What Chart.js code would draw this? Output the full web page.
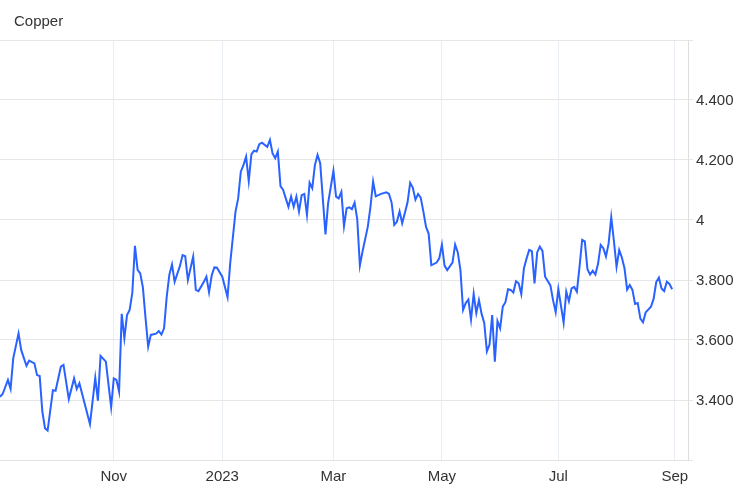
<!DOCTYPE html>
<html>
<head>
<meta charset="utf-8">
<script src="https://cdn.jsdelivr.net/npm/chart.js@4/dist/chart.umd.min.js"></script>
<style>
  html, body { margin: 0; padding: 0; background: #fff; }
  #wrap { position: relative; width: 750px; height: 496px; }
  #title { position: absolute; left: 14px; top: 13px; font: 15px/15px "Liberation Sans", Arial, sans-serif; color: #333; }
  canvas { display: block; }
</style>
</head>
<body>
<div id="wrap">
  <div id="title">Copper</div>
  <canvas id="chart" width="750" height="496"></canvas>
</div>
<script>
// trading-day index of each reading and the copper price at that day
const days = [
  0, 1, 3, 4, 5, 7, 8, 10, 11, 13, 14, 15, 16, 17, 18, 20, 21, 23, 24, 26,
  28, 29, 30, 31, 34, 36, 37, 38, 40, 42, 43, 44, 45, 46, 47, 48, 49, 50, 51, 52,
  53, 54, 55, 56, 57, 59, 60, 61, 62, 63, 64, 65, 66, 68, 69, 70, 71, 73, 74, 75,
  77, 78, 79, 80, 81, 82, 84, 86, 87, 89, 90, 91, 92, 93, 94, 95, 96, 97, 98, 99,
  101, 102, 103, 104, 105, 106, 107, 108, 109, 110, 111, 112, 113, 114, 115, 116, 117, 118, 119, 120,
  121, 123, 124, 126, 127, 128, 129, 130, 131, 132, 133, 134, 135, 136, 137, 139, 140, 141, 142, 144,
  146, 147, 148, 149, 150, 151, 152, 154, 155, 156, 157, 158, 159, 160, 161, 162, 163, 165, 166, 167,
  168, 169, 171, 172, 173, 174, 175, 176, 177, 178, 179, 180, 181, 182, 183, 184, 185, 186, 187, 188,
  189, 190, 191, 192, 193, 194, 195, 196, 197, 198, 199, 200, 201, 202, 203, 204, 205, 206, 208, 209,
  210, 211, 213, 214, 215, 216, 217, 218, 219, 220, 221, 222, 223, 224, 225, 226, 227, 228, 229, 230,
  231, 232, 233, 234, 235, 236, 237, 238, 239, 240, 241, 242, 243, 244, 246, 247, 248, 249, 250, 251,
  252, 253, 254
];
const copper = [
  3.411, 3.420, 3.467, 3.437, 3.539, 3.622, 3.567, 3.514, 3.531, 3.522, 3.483, 3.480, 3.361, 3.306, 3.298, 3.433, 3.431, 3.511, 3.517, 3.403,
  3.472, 3.437, 3.456, 3.422, 3.320, 3.474, 3.398, 3.547, 3.528, 3.376, 3.472, 3.467, 3.428, 3.687, 3.606, 3.683, 3.700, 3.757, 3.914, 3.834,
  3.822, 3.775, 3.673, 3.578, 3.617, 3.621, 3.630, 3.618, 3.639, 3.744, 3.818, 3.852, 3.794, 3.847, 3.883, 3.879, 3.800, 3.878, 3.767, 3.763,
  3.793, 3.811, 3.759, 3.815, 3.842, 3.841, 3.811, 3.743, 3.856, 4.028, 4.072, 4.161, 4.183, 4.211, 4.130, 4.219, 4.231, 4.228, 4.253, 4.258,
  4.244, 4.267, 4.222, 4.206, 4.228, 4.113, 4.100, 4.072, 4.044, 4.078, 4.044, 4.078, 4.028, 4.083, 4.087, 4.017, 4.124, 4.106, 4.183, 4.217,
  4.189, 3.952, 4.056, 4.164, 4.078, 4.072, 4.094, 3.980, 4.039, 4.042, 4.036, 4.058, 4.003, 3.848, 3.895, 3.978, 4.044, 4.128, 4.079, 4.087,
  4.092, 4.087, 4.058, 3.984, 3.994, 4.028, 3.989, 4.058, 4.124, 4.108, 4.068, 4.087, 4.074, 4.028, 3.977, 3.954, 3.849, 3.858, 3.872, 3.918,
  3.848, 3.833, 3.858, 3.918, 3.892, 3.833, 3.700, 3.723, 3.735, 3.668, 3.754, 3.690, 3.733, 3.687, 3.657, 3.562, 3.585, 3.683, 3.528, 3.663,
  3.639, 3.711, 3.726, 3.769, 3.767, 3.758, 3.796, 3.789, 3.753, 3.839, 3.872, 3.900, 3.896, 3.789, 3.892, 3.911, 3.897, 3.811, 3.782, 3.733,
  3.693, 3.770, 3.658, 3.761, 3.729, 3.772, 3.777, 3.761, 3.844, 3.934, 3.929, 3.836, 3.818, 3.831, 3.818, 3.854, 3.917, 3.906, 3.878, 3.922,
  4.009, 3.930, 3.844, 3.900, 3.875, 3.839, 3.768, 3.783, 3.767, 3.720, 3.723, 3.671, 3.659, 3.692, 3.711, 3.737, 3.793, 3.808, 3.772, 3.763,
  3.794, 3.787, 3.769
];

// month ticks on the x axis (trading-day index of the month start)
const monthTickDays = [43, 84, 126, 167, 211, 255];
const monthTickLabels = ['Nov', '2023', 'Mar', 'May', 'Jul', 'Sep'];

// price ticks on the right axis; outer lines carry no label
const priceTicks = [3.2, 3.4, 3.6, 3.8, 4.0, 4.2, 4.4, 4.6];
const priceTickLabels = ['', '3.400', '3.600', '3.800', '4', '4.200', '4.400', ''];

Chart.defaults.font.family = '"Liberation Sans", Arial, sans-serif';
Chart.defaults.font.size = 15;
Chart.defaults.color = '#333';

const points = days.map((d, i) => ({ x: d, y: copper[i] }));

new Chart(document.getElementById('chart'), {
  type: 'line',
  data: {
    datasets: [{
      label: 'Copper',
      data: points,
      borderColor: '#2962ff',
      borderWidth: 2,
      pointRadius: 0,
      tension: 0,
      fill: false
    }]
  },
  options: {
    responsive: false,
    animation: false,
    devicePixelRatio: 1,
    layout: { padding: { top: 40, left: 0, right: 0, bottom: 0 } },
    plugins: { legend: { display: false }, tooltip: { enabled: false } },
    scales: {
      x: {
        type: 'linear',
        min: 0,
        max: 260,
        afterBuildTicks: (s) => { s.ticks = monthTickDays.map(v => ({ value: v })); },
        afterFit: (s) => { s.height = 36; },
        ticks: {
          autoSkip: false,
          maxRotation: 0,
          padding: 8,
          color: '#333',
          callback: (v) => { const i = monthTickDays.indexOf(v); return i >= 0 ? monthTickLabels[i] : ''; }
        },
        grid: { color: '#e9eef5', drawTicks: false },
        border: { color: '#e2e2e2' }
      },
      y: {
        position: 'right',
        min: 3.2,
        max: 4.6,
        afterBuildTicks: (s) => { s.ticks = priceTicks.map(v => ({ value: v })); },
        afterFit: (s) => { s.width = 62; },
        ticks: {
          padding: 3,
          labelOffset: 1,
          color: '#333',
          callback: (v) => {
            const i = priceTicks.findIndex(p => Math.abs(p - v) < 1e-6);
            return i >= 0 ? priceTickLabels[i] : '';
          }
        },
        grid: { color: '#e6e6e6', tickLength: 5 },
        border: { color: '#dedede' }
      }
    }
  }
});
</script>
</body>
</html>
